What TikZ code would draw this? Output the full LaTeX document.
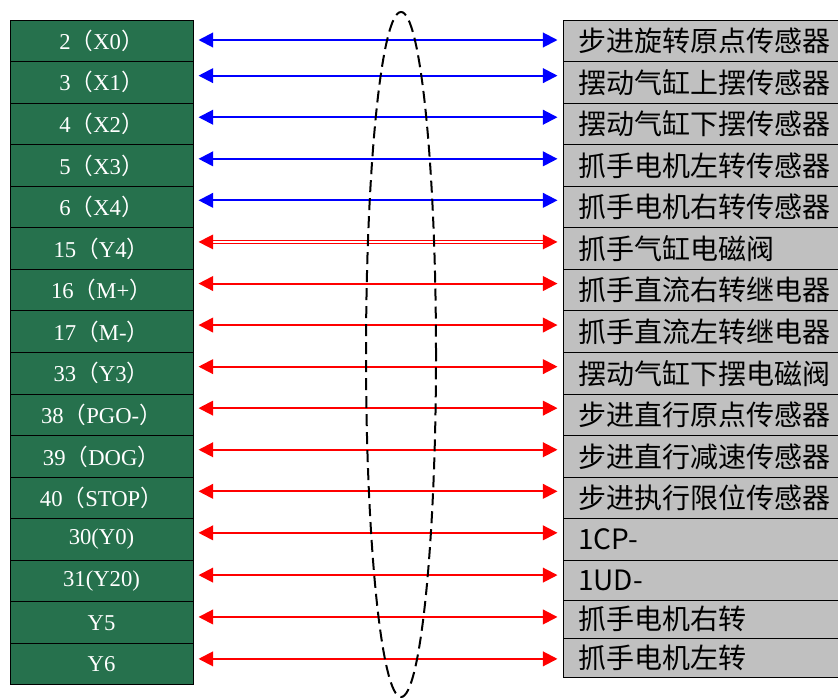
\documentclass[tikz,border=0pt]{standalone}
\usepackage{fontspec}
\setmainfont{Liberation Serif}
\newfontfamily\cjk{Noto Sans CJK SC}
\usetikzlibrary{arrows.meta,calc}
\definecolor{pingreen}{RGB}{38,113,77}
\definecolor{devgray}{RGB}{192,192,192}
\newcommand{\zl}{{\cjk （}}
\newcommand{\zr}{{\cjk ）}}

\begin{document}
\begin{tikzpicture}[x=0.75pt, y=-0.75pt,
	pin/.style = {draw = black, line width = 0.75pt, fill = pingreen, text = white, inner sep = 0pt,
		minimum width = 137.25pt, minimum height = 31.17pt, font = \fontsize{17}{17}\selectfont},
	dev/.style = {draw = black, line width = 0.75pt, fill = devgray, inner ysep = 0pt, inner xsep = 11.25pt,
		text width = 183.75pt, align = left, minimum height = 31.17pt, font = \cjk\fontsize{21}{21}\selectfont},
	link/.style = {{Triangle[length=11pt,width=11pt]}-{Triangle[length=11pt,width=11pt]}, line width = 1.5pt,
		shorten <= 3.75pt, shorten >= 3.75pt},
	blu/.style = {link, draw = blue},
	rd/.style = {link, draw = red},
	oval/.style = {line width = 1.5pt, dash pattern = on 9pt off 4.5pt}]
	\useasboundingbox (0,0) rectangle (838,697);
	% PLC terminals
	\node[pin] (l1) at (101.5,40.8) {2\zl X0\zr};
	\node[pin] (l2) at (101.5,82.3) {3\zl X1\zr};
	\node[pin] (l3) at (101.5,123.9) {4\zl X2\zr};
	\node[pin] (l4) at (101.5,165.5) {5\zl X3\zr};
	\node[pin] (l5) at (101.5,207.0) {6\zl X4\zr};
	\node[pin] (l6) at (101.5,248.6) {15\zl Y4\zr};
	\node[pin] (l7) at (101.5,290.2) {16\zl M+\zr};
	\node[pin] (l8) at (101.5,331.7) {17\zl M-\zr};
	\node[pin] (l9) at (101.5,373.3) {33\zl Y3\zr};
	\node[pin] (l10) at (101.5,414.8) {38\zl PGO-\zr};
	\node[pin] (l11) at (101.5,456.4) {39\zl DOG\zr};
	\node[pin] (l12) at (101.5,498.0) {40\zl STOP\zr};
	\node[pin] (l13) at (101.5,539.5) {30(Y0)};
	\node[pin] (l14) at (101.5,581.1) {31(Y20)};
	\node[pin] (l15) at (101.5,622.7) {Y5};
	\node[pin] (l16) at (101.5,664.2) {Y6};
	% devices
	\node[dev] (r1) at (700.5,40.8) {步进旋转原点传感器};
	\node[dev] (r2) at (700.5,82.3) {摆动气缸上摆传感器};
	\node[dev] (r3) at (700.5,123.9) {摆动气缸下摆传感器};
	\node[dev] (r4) at (700.5,165.5) {抓手电机左转传感器};
	\node[dev] (r5) at (700.5,207.0) {抓手电机右转传感器};
	\node[dev] (r6) at (700.5,248.6) {抓手气缸电磁阀};
	\node[dev] (r7) at (700.5,290.2) {抓手直流右转继电器};
	\node[dev] (r8) at (700.5,331.7) {抓手直流左转继电器};
	\node[dev] (r9) at (700.5,373.3) {摆动气缸下摆电磁阀};
	\node[dev] (r10) at (700.5,414.8) {步进直行原点传感器};
	\node[dev] (r11) at (700.5,456.4) {步进直行减速传感器};
	\node[dev] (r12) at (700.5,498.0) {步进执行限位传感器};
	\node[dev] (r13) at (700.5,539.5) {1CP-};
	\node[dev, minimum height = 30pt] (r14) at (700.5,580) {1UD-};
	\node[dev, minimum height = 28.5pt] (r15) at (700.5,619) {抓手电机右转};
	\node[dev, minimum height = 29.25pt] (r16) at (700.5,657.5) {抓手电机左转};
	% wiring
	\draw[blu] ([yshift=0.6pt]l1.east) -- ([yshift=0.6pt]l1.east -| r1.west);
	\draw[blu] ([yshift=5pt]l2.east) -- ([yshift=5pt]l2.east -| r2.west);
	\draw[blu] ([yshift=5pt]l3.east) -- ([yshift=5pt]l3.east -| r3.west);
	\draw[blu] ([yshift=5pt]l4.east) -- ([yshift=5pt]l4.east -| r4.west);
	\draw[blu] ([yshift=5pt]l5.east) -- ([yshift=5pt]l5.east -| r5.west);
	\draw[rd, line width = 1.1pt, double = white, double distance = 1.3pt] ([yshift=5pt]l6.east) -- ([yshift=5pt]l6.east -| r6.west);
	\draw[rd] ([yshift=5pt]l7.east) -- ([yshift=5pt]l7.east -| r7.west);
	\draw[rd] ([yshift=5pt]l8.east) -- ([yshift=5pt]l8.east -| r8.west);
	\draw[rd] ([yshift=5pt]l9.east) -- ([yshift=5pt]l9.east -| r9.west);
	\draw[rd] ([yshift=5pt]l10.east) -- ([yshift=5pt]l10.east -| r10.west);
	\draw[rd] ([yshift=5pt]l11.east) -- ([yshift=5pt]l11.east -| r11.west);
	\draw[rd] ([yshift=5pt]l12.east) -- ([yshift=5pt]l12.east -| r12.west);
	\draw[rd] ([yshift=5pt]l13.east) -- ([yshift=5pt]l13.east -| r13.west);
	\draw[rd] ([yshift=4.5pt]l14.east) -- ([yshift=4.5pt]l14.east -| r14.west);
	\draw[rd] ([yshift=4.3pt]l15.east) -- ([yshift=4.3pt]l15.east -| r15.west);
	\draw[rd] ([yshift=4pt]l16.east) -- ([yshift=4pt]l16.east -| r16.west);
	% bundle mark
	\draw[oval] (401,354.5) ellipse [x radius = 26.25pt, y radius = 256.9pt];
\end{tikzpicture}
\end{document}
